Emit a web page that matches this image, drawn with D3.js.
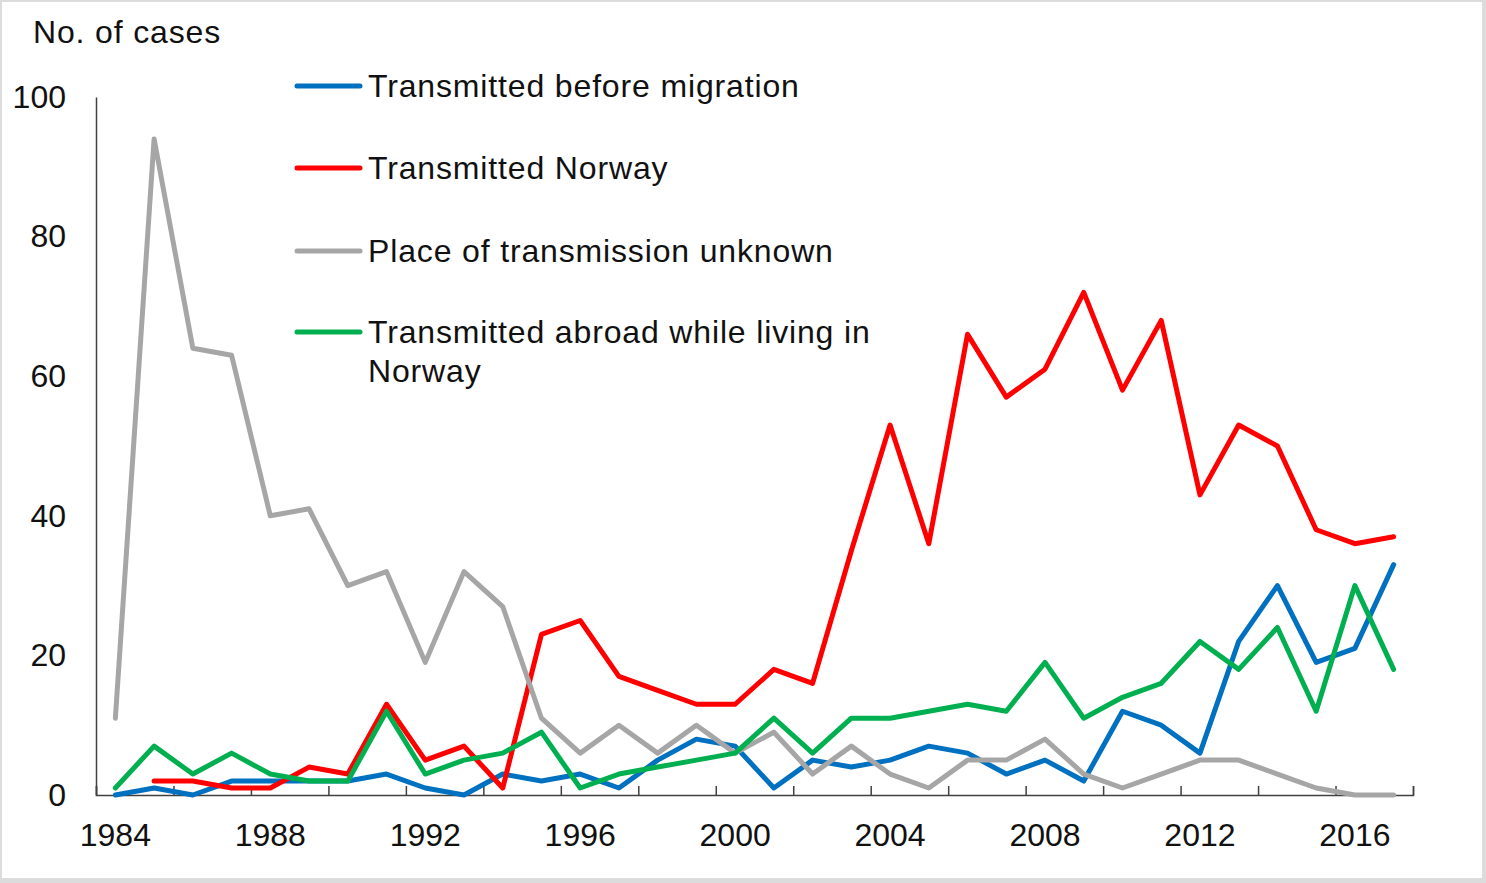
<!DOCTYPE html>
<html>
<head>
<meta charset="utf-8">
<script src="https://cdn.jsdelivr.net/npm/d3@7"></script>
<style>
  html, body { margin: 0; padding: 0; background: #fff; }
  svg { display: block; font-family: "Liberation Sans", Arial, sans-serif; }
</style>
</head>
<body>
<svg id="chart" width="1486" height="883"></svg>
<script>
const years = d3.range(1984, 2018);
const beforeMigration = [0,1,0,2,2,2,2,3,1,0,3,2,3,1,5,8,7,1,5,4,5,7,6,3,5,2,12,10,6,22,30,19,21,33];
const norway = [null,2,2,1,1,4,3,13,5,7,1,23,25,17,15,13,13,18,16,35,53,36,66,57,61,72,58,68,43,53,50,38,36,37];
const unknown = [11,94,64,63,40,41,30,32,19,32,27,11,6,10,6,10,6,9,3,7,3,1,5,5,8,3,1,3,5,5,3,1,0,0];
const abroad = [1,7,3,6,3,2,2,12,3,5,6,9,1,3,4,5,6,11,6,11,11,12,13,12,19,11,14,16,22,18,24,12,30,18];
const yTicks = [0,20,40,60,80,100];
const xLabelYears = [1984,1988,1992,1996,2000,2004,2008,2012,2016];
const seriesNames = ["Transmitted before migration","Transmitted Norway","Place of transmission unknown","Transmitted abroad while living in Norway"];
const seriesColors = ["#0070C0","#FF0000","#A6A6A6","#00B050"];
const seriesData = [beforeMigration, norway, unknown, abroad];

const svg = d3.select("#chart");
const mLeft = 96, mRight = 1413, mTop = 97, mBottom = 795;
const FS = 32;

// frame
svg.append("rect").attr("x",0).attr("y",0).attr("width",1486).attr("height",883).attr("fill","#dcdcdc");
svg.append("rect").attr("x",2).attr("y",2).attr("width",1480).attr("height",876).attr("fill","#fff");

const x = d3.scaleBand().domain(years).range([mLeft, mRight]).padding(0);
const xb = d3.scaleLinear().domain([years[0]-0.5, years[years.length-1]+0.5]).range([mLeft, mRight]);
const y = d3.scaleLinear().domain([0,100]).range([mBottom, mTop]);
const cx = d => x(d) + x.bandwidth()/2;

// Y axis
const yAxis = svg.append("g").attr("transform",`translate(${mLeft},0)`)
  .call(d3.axisLeft(y).tickValues(yTicks).tickSize(0).tickPadding(30));
yAxis.select(".domain").attr("stroke","#404040").attr("stroke-width",1.5);
yAxis.selectAll("text").attr("font-size",FS).attr("fill","#111").attr("font-family","Liberation Sans, Arial, sans-serif");

// X axis ticks at boundaries
const bounds = d3.range(0, years.length+1, 2).map(i => years[0]-0.5+i);
const xAxisT = svg.append("g").attr("transform",`translate(0,${mBottom})`)
  .call(d3.axisBottom(xb).tickValues(bounds).tickSize(-9).tickFormat(""));
xAxisT.select(".domain").attr("stroke","#404040").attr("stroke-width",1.5);
xAxisT.selectAll(".tick line").attr("stroke","#404040").attr("stroke-width",1.5);

const xAxisL = svg.append("g").attr("transform",`translate(0,${mBottom})`)
  .call(d3.axisBottom(x).tickValues(xLabelYears).tickSize(0).tickPadding(28));
xAxisL.select(".domain").remove();
xAxisL.selectAll("text").attr("font-size",FS).attr("fill","#111").attr("font-family","Liberation Sans, Arial, sans-serif");

// Lines
const line = d3.line().defined(d => d[1] !== null).x(d => cx(d[0])).y(d => y(d[1]));
seriesData.forEach((arr, i) => {
  svg.append("path")
    .datum(years.map((yr, j) => [yr, arr[j]]))
    .attr("fill","none").attr("stroke",seriesColors[i]).attr("stroke-width",5)
    .attr("stroke-linejoin","round").attr("stroke-linecap","round")
    .attr("d", line);
});

// Title
svg.append("text").attr("x",33).attr("y",43).attr("font-size",FS).attr("letter-spacing",0.85)
  .attr("fill","#111").text("No. of cases");

// Legend
const legY = [86,168,251,332];
seriesNames.forEach((name, i) => {
  svg.append("line").attr("x1",297).attr("x2",360).attr("y1",legY[i]).attr("y2",legY[i])
    .attr("stroke",seriesColors[i]).attr("stroke-width",5).attr("stroke-linecap","round");
  const t = svg.append("text").attr("x",368).attr("y",legY[i]+11).attr("font-size",FS)
    .attr("letter-spacing",0.85).attr("fill","#111");
  if (i === 3) {
    t.append("tspan").attr("x",368).text("Transmitted abroad while living in");
    t.append("tspan").attr("x",368).attr("dy",39).text("Norway");
  } else {
    t.text(name);
  }
});
</script>
</body>
</html>
